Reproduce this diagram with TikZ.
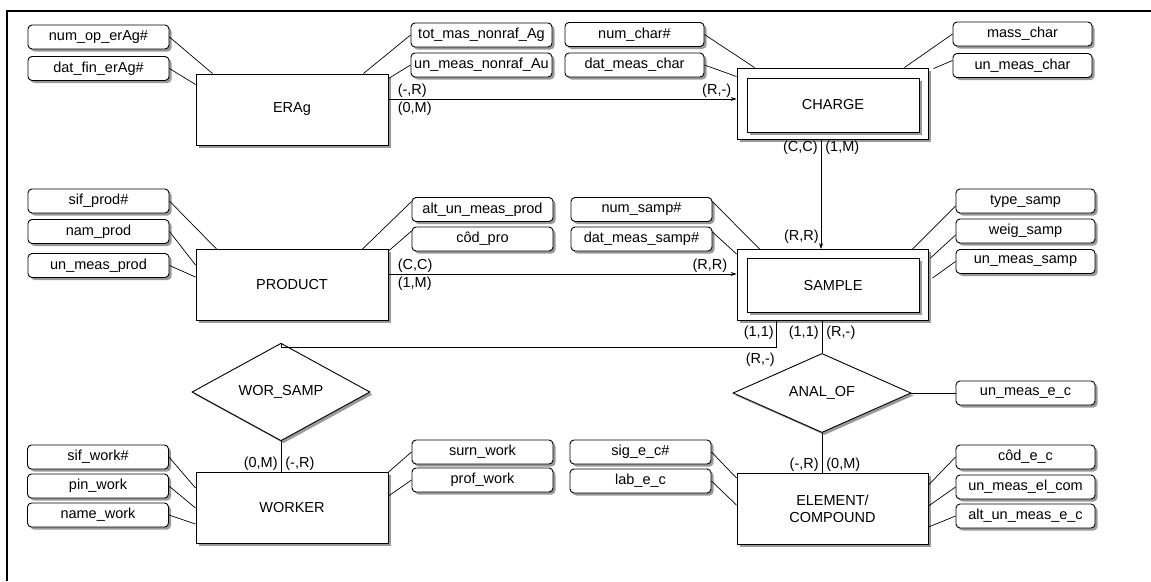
\documentclass[tikz,border=0pt]{standalone}
\usepackage{fontspec}
\setmainfont{Liberation Sans}
\usetikzlibrary{shapes.geometric, arrows.meta, positioning, shadows}

\begin{document}
\begin{tikzpicture}[
    x=1pt, y=-1pt,
    every node/.style={font=\fontsize{14.5}{17}\selectfont, align=center, inner sep=0pt},
    boxshadow/.style={drop shadow={shadow xshift=2.5pt, shadow yshift=-2.5pt, fill=gray!80, opacity=1}},
    entity/.style={rectangle, draw, fill=white, line width=0.9pt, minimum width=192pt, minimum height=71pt, boxshadow},
    entin/.style={entity, minimum width=172pt, minimum height=54pt},
    attr/.style={rectangle, draw, rounded corners=4pt, fill=white, line width=0.9pt, minimum width=141pt, minimum height=24pt, boxshadow},
    rel/.style={diamond, draw, fill=white, line width=0.9pt, minimum width=178pt, minimum height=58pt, boxshadow},
    card/.style={inner sep=1pt},
    link/.style={line width=0.7pt},
    arrow/.style={link, -{Stealth[length=6pt, width=4pt]}}
]
    \useasboundingbox (0,0) rectangle (1151,581);
    \draw[line width=1.6pt] (7,581) -- (7,11) -- (1151,11);

    % Entities
    \node[entity] (erag) at (292,109.5) {ERAg};
    \node[entity, minimum width=191pt] (charge) at (832.5,103.5) {};
    \node[entin] (chargein) at (833,105) {CHARGE};
    \node[entity] (product) at (292,285) {PRODUCT};
    \node[entity, minimum width=191pt] (sample) at (832.5,285) {};
    \node[entin] (samplein) at (833,285.5) {SAMPLE};
    \node[entity] (worker) at (292,508) {WORKER};
    \node[entity, minimum width=191pt] (elem) at (832.5,509) {ELEMENT/\\COMPOUND};

    % Relationships
    \node[rel] (worsamp) at (281,392) {WOR\_SAMP};
    \node[rel] (analof) at (822,393) {ANAL\_OF};

    % Attributes
    \node[attr] (numop) at (98.5,37) {num\_op\_erAg\#};
    \node[attr] (datfin) at (98.5,68.5) {dat\_fin\_erAg\#};
    \node[attr] (totmas) at (481.5,35) {tot\_mas\_nonraf\_Ag};
    \node[attr] (unnonraf) at (481.5,65) {un\_meas\_nonraf\_Au};
    \node[attr, minimum width=139pt] (numchar) at (634.5,34.5) {num\_char\#};
    \node[attr, minimum width=139pt] (datchar) at (634.5,65) {dat\_meas\_char};
    \node[attr, minimum width=139pt] (masschar) at (1022.5,34) {mass\_char};
    \node[attr, minimum width=139pt] (unchar) at (1022.5,65.5) {un\_meas\_char};

    \node[attr] (sifprod) at (98.5,201) {sif\_prod\#};
    \node[attr] (namprod) at (98.5,231.5) {nam\_prod};
    \node[attr] (unprod) at (98.5,265.5) {un\_meas\_prod};
    \node[attr] (altprod) at (482.5,209.5) {alt\_un\_meas\_prod};
    \node[attr] (codpro) at (482.5,239) {côd\_pro};
    \node[attr] (numsamp) at (641.5,209.5) {num\_samp\#};
    \node[attr] (dmsamp) at (641.5,239) {dat\_meas\_samp\#};
    \node[attr, minimum width=139pt] (typesamp) at (1025.5,201) {type\_samp};
    \node[attr, minimum width=139pt] (weigsamp) at (1025.5,231) {weig\_samp};
    \node[attr, minimum width=139pt] (unsamp) at (1025.5,261.5) {un\_meas\_samp};

    \node[attr, minimum width=139pt] (unec) at (1025.5,393) {un\_meas\_e\_c};

    \node[attr] (sifwork) at (98,457) {sif\_work\#};
    \node[attr] (pinwork) at (98,486) {pin\_work};
    \node[attr] (namework) at (98,515) {name\_work};
    \node[attr] (surnwork) at (482.5,452) {surn\_work};
    \node[attr] (profwork) at (482.5,480) {prof\_work};
    \node[attr] (sigec) at (640.5,452) {sig\_e\_c\#};
    \node[attr] (labec) at (640.5,481) {lab\_e\_c};
    \node[attr, minimum width=139pt] (codec) at (1025.5,457) {côd\_e\_c};
    \node[attr, minimum width=139pt] (unelcom) at (1025.5,487) {un\_meas\_el\_com};
    \node[attr, minimum width=139pt] (altec) at (1025.5,516) {alt\_un\_meas\_e\_c};

    % Attribute links
    \draw[link] (numop.east) -- ([xshift=17pt]erag.north west);
    \draw[link] (datfin.east) -- ([yshift=-11pt]erag.north west);
    \draw[link] (totmas.west) -- ([xshift=-25pt]erag.north east);
    \draw[link] (unnonraf.west) -- ([yshift=-5pt]erag.north east);
    \draw[link] (numchar.east) -- ([xshift=18pt]charge.north west);
    \draw[link] (datchar.east) -- ([yshift=-9pt]charge.north west);
    \draw[link] (masschar.west) -- ([xshift=-24pt]charge.north east);
    \draw[link] ([yshift=5pt]unchar.west) -- ([shift={(5,1)}]charge.north east);

    \draw[link] (sifprod.east) -- ([xshift=21pt]product.north west);
    \draw[link] (namprod.east) -- ([yshift=-16pt]product.north west);
    \draw[link] (unprod.east) -- ([yshift=-28pt]product.north west);
    \draw[link] ([yshift=8pt]altprod.west) -- ([xshift=-26pt]product.north east);
    \draw[link] ([yshift=8pt]codpro.west) -- ([yshift=-2pt]product.north east);
    \draw[link] ([yshift=8pt]numsamp.east) -- ([xshift=23pt]sample.north west);
    \draw[link] ([yshift=7pt]dmsamp.east) -- ([yshift=-5pt]sample.north west);
    \draw[link] ([yshift=-5pt]typesamp.west) -- ([xshift=-16pt]sample.north east);
    \draw[link] ([yshift=-4pt]weigsamp.west) -- ([shift={(2,9)}]sample.north east);
    \draw[link] (unsamp.west) -- ([shift={(4,29)}]sample.north east);

    \draw[link] (sifwork.east) -- ([yshift=-16pt]worker.north west);
    \draw[link] (pinwork.east) -- ([yshift=-36pt]worker.north west);
    \draw[link] (namework.east) -- ([yshift=-52pt]worker.north west);
    \draw[link] (surnwork.west) -- (worker.north east);
    \draw[link] (profwork.west) -- ([yshift=-24pt]worker.north east);
    \draw[link] (sigec.east) -- ([yshift=-5pt]elem.north west);
    \draw[link] (labec.east) -- ([yshift=-32pt]elem.north west);
    \draw[link] (codec.west) -- ([yshift=-12pt]elem.north east);
    \draw[link] (unelcom.west) -- ([yshift=-33pt]elem.north east);
    \draw[link] (altec.west) -- ([yshift=-54pt]elem.north east);
    \draw[link] (analof.east) -- (unec.west);

    % Relationship links
    \draw[arrow] ([yshift=10.5pt]erag.east) --
        node[card, pos=0, above right, xshift=8pt] {(-,R)}
        node[card, pos=0, below right, xshift=8pt, yshift=-2pt] {(0,M)}
        node[card, pos=1, above left, xshift=-4pt] {(R,-)}
        ([yshift=4.5pt]charge.west);
    \draw[arrow] ([xshift=-11.5pt]charge.south) --
        node[card, pos=0, below left, xshift=-2pt] {(C,C)}
        node[card, pos=0, below right, xshift=3pt] {(1,M)}
        node[card, pos=1, above left, xshift=-1pt, yshift=4pt] {(R,R)}
        ([xshift=-11.5pt]sample.north);
    \draw[arrow] ([yshift=11pt]product.east) --
        node[card, pos=0, above right, xshift=8pt] {(C,C)}
        node[card, pos=0, below right, xshift=8pt, yshift=-2pt] {(1,M)}
        node[card, pos=1, above left, xshift=-8pt] {(R,R)}
        ([yshift=11pt]sample.west);
    \coordinate (bend) at (776,347);
    \draw[link] (sample.south -| bend) --
        node[card, pos=0, below left, xshift=-1pt, yshift=-4pt] {(1,1)}
        (bend) -| (worsamp.north);
    \node[card, below left=5pt and 0pt of bend] (bendlbl) {(R,-)};
    \draw[link] (sample.south -| analof.north) --
        node[card, pos=0, below left, xshift=-2pt, yshift=-4pt] {(1,1)}
        node[card, pos=0, below right, xshift=3pt, yshift=-4pt] {(R,-)}
        (analof.north);
    \draw[link] (analof.south) --
        node[card, pos=1, above left, xshift=-2pt] {(-,R)}
        node[card, pos=1, above right, xshift=3pt] {(0,M)}
        (analof.south |- elem.north);
    \draw[link] (worsamp.south) --
        node[card, pos=1, above left, xshift=-2pt] {(0,M)}
        node[card, pos=1, above right, xshift=3pt] {(-,R)}
        (worsamp.south |- worker.north);
\end{tikzpicture}
\end{document}
